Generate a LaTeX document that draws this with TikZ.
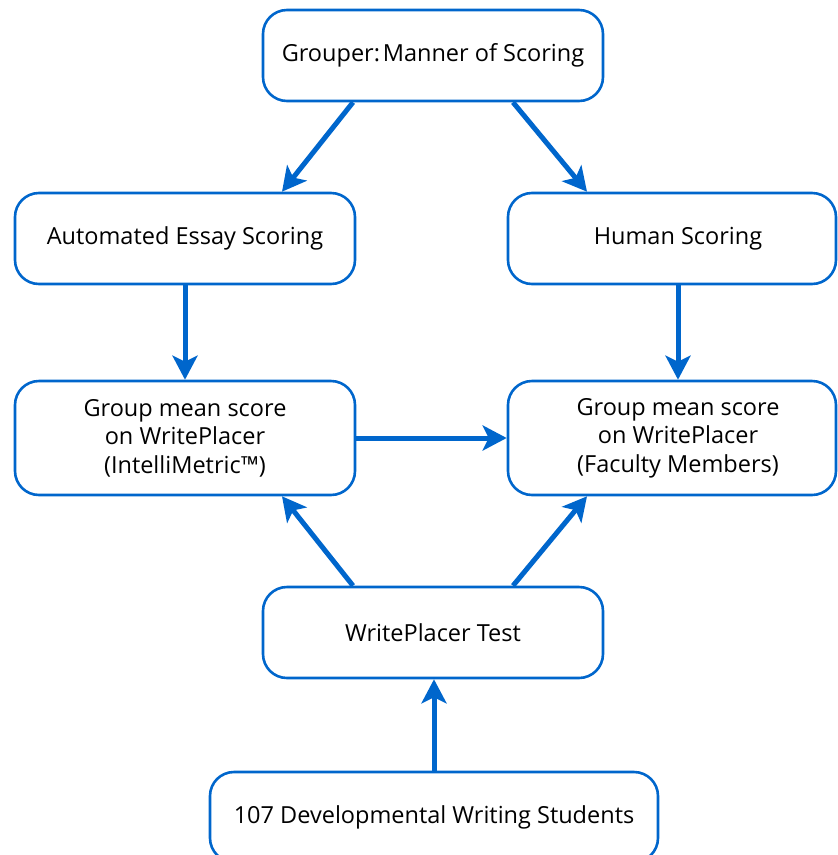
\documentclass[tikz,border=0pt]{standalone}
\usepackage{fontspec}
\setmainfont{Open Sans}
\usetikzlibrary{arrows.meta}
\definecolor{bl}{RGB}{0,102,204}
\begin{document}
\frenchspacing
\begin{tikzpicture}[x=1pt,y=-1pt,
  box/.style={draw=bl,line width=2.6pt,rounded corners=24pt,fill=white,
    align=center,inner sep=0pt,font=\fontsize{23.5}{28.5}\selectfont},
  arr/.style={draw=bl,line width=5pt,-{Stealth[length=24pt,width=25pt,inset=6pt]}}]
\useasboundingbox (0,0) rectangle (838,855);
\node[box,minimum width=340pt,minimum height=91pt] (top) at (433,55.5) {Grouper:\hspace{0.12em}Manner of Scoring};
\node[box,minimum width=340pt,minimum height=91pt] (auto) at (185,238.5) {Automated Essay Scoring};
\node[box,minimum width=328pt,minimum height=91pt] (human) at (672,238.5) {\hspace*{12pt}Human Scoring};
\node[box,minimum width=340pt,minimum height=114pt] (gl) at (185,438) {Group mean score\\on WritePlacer\\(IntelliMetric™)};
\node[box,minimum width=328pt,minimum height=114pt] (gr) at (672,438) {\hspace*{12pt}Group mean score\\\hspace*{12pt}on WritePlacer\\\hspace*{12pt}(Faculty Members)};
\node[box,minimum width=340pt,minimum height=91pt] (wp) at (433,632.5) {WritePlacer Test};
\node[box,minimum width=448pt,minimum height=90pt] (stu) at (434,817) {107 Developmental Writing Students};
\draw[arr] ([xshift=-80pt]top.south) -- ([xshift=97pt]auto.north);
\draw[arr] ([xshift=80pt]top.south) -- ([xshift=-85pt]human.north);
\draw[arr] (auto.south) -- (gl.north);
\draw[arr] ([xshift=6pt]human.south) -- ([xshift=6pt]gr.north);
\draw[arr] (gl.east) -- (gr.west);
\draw[arr] ([xshift=-80pt]wp.north) -- ([xshift=97pt]gl.south);
\draw[arr] ([xshift=80pt]wp.north) -- ([xshift=-85pt]gr.south);
\draw[arr] (stu.north) -- ([xshift=1pt]wp.south);
\end{tikzpicture}
\end{document}
